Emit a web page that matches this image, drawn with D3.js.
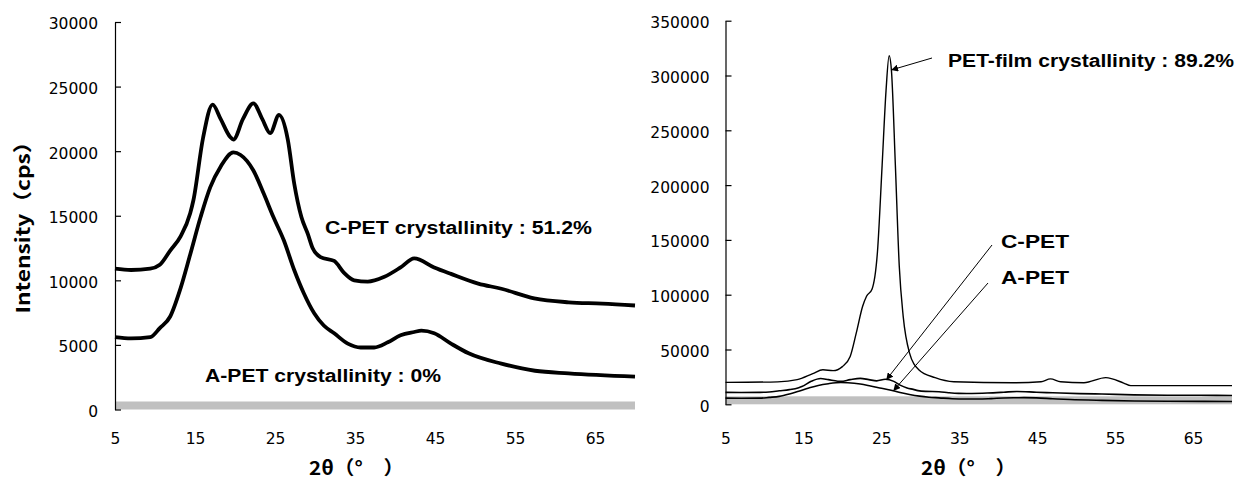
<!DOCTYPE html>
<html><head><meta charset="utf-8">
<script src="https://cdn.jsdelivr.net/npm/d3@7"></script>
<style>
html,body{margin:0;padding:0;background:#fff;}
svg{display:block;}
.tick text{font-family:"DejaVu Sans",sans-serif;font-size:15.5px;fill:#000;}
.lbl{font-family:"Liberation Sans",Arial,sans-serif;font-weight:bold;fill:#000;}
.ttl{font-family:"Noto Sans CJK JP",sans-serif;font-weight:bold;fill:#000;}
</style></head>
<body>
<script>
// ---- data (2θ in degrees, intensity in cps) ----
const xTickLabels = [5, 15, 25, 35, 45, 55, 65];
const leftYTicks = [0, 5000, 10000, 15000, 20000, 25000, 30000];
const rightYTicks = [0, 50000, 100000, 150000, 200000, 250000, 300000, 350000];

const cpetTheta = [5, 7, 9.4, 10.6, 11.9, 13.2, 14.4, 14.8, 16, 17.2, 18.2, 19.4, 19.8, 21, 22.3, 23.4, 24.4, 25.5, 26.6, 27.4, 28.3, 29.1, 29.7, 30.7, 32.4, 33.6, 34.9, 36.6, 38.6, 40.7, 42.4, 44.9, 47, 50.4, 53.3, 57.4, 61.7, 65.9, 70];
const cpetValues = [10900, 10800, 10900, 11200, 12300, 13400, 15200, 16200, 21000, 23600, 22500, 21100, 20900, 22500, 23700, 22500, 21400, 22800, 20900, 17500, 14900, 13600, 12500, 11800, 11500, 10600, 10000, 9900, 10250, 11000, 11700, 11000, 10500, 9750, 9350, 8600, 8300, 8200, 8050];

const apetTheta = [5, 7, 9.4, 10.6, 11.9, 13.2, 14.4, 15.7, 16.9, 18.2, 19.8, 20.7, 22.3, 23.6, 24.8, 26.1, 27.4, 28.6, 29.9, 31.1, 32.4, 34.1, 35.7, 37.4, 39.1, 40.7, 42.4, 43.3, 44.9, 47, 49.2, 53.3, 57.5, 61.7, 70];
const apetValues = [5600, 5500, 5600, 6300, 7200, 9400, 12000, 14900, 17200, 18800, 19900, 19700, 18500, 16700, 14900, 13100, 10800, 9000, 7450, 6500, 5900, 5100, 4800, 4800, 5200, 5750, 6000, 6100, 5900, 5100, 4350, 3550, 3000, 2800, 2550];

const filmTheta = [5, 11.7, 14.2, 16.2, 17.5, 18.8, 20, 21, 21.8, 22.6, 23.1, 23.8, 24.5, 25.1, 25.6, 26.0, 26.3, 26.8, 27.3, 27.8, 28.6, 29.8, 31.9, 34.3, 41.9, 45.5, 46.7, 48, 51, 53.8, 56.1, 57, 70];
const filmValues = [20000, 20500, 22500, 28000, 31500, 30700, 34400, 43600, 65600, 89400, 98600, 105000, 139000, 218000, 286000, 318000, 304000, 218000, 126000, 80500, 47200, 31600, 24300, 20600, 19700, 20600, 23200, 20600, 19700, 24300, 19400, 17000, 17000];

const leftLabels = ["C-PET crystallinity : 51.2%", "A-PET crystallinity : 0%"];
const rightLabels = ["PET-film crystallinity : 89.2%", "C-PET", "A-PET"];
const yTitle = "Intensity（cps）";
const xTitle = "2θ（°　）";

const W = 1237, H = 481;
const svg = d3.select("body").append("svg").attr("width", W).attr("height", H);

svg.append("defs").append("marker")
  .attr("id", "arr").attr("viewBox", "0 0 10 10").attr("refX", 10).attr("refY", 5)
  .attr("markerWidth", 7).attr("markerHeight", 7).attr("markerUnits", "userSpaceOnUse")
  .attr("orient", "auto")
  .append("path").attr("d", "M0,0 L10,5 L0,10 z").attr("fill", "#000");

function zip(xs, ys){ return xs.map((x,i)=>[x, ys[i]]); }

function panel(opt){
  const x = d3.scaleLinear().domain([5,70]).range(opt.xr);
  const y = d3.scaleLinear().domain([0, opt.ymax]).range(opt.yr);
  const g = svg.append("g");
  // gray baseline band
  g.append("rect").attr("x", x(5)).attr("y", y(0)-8).attr("width", x(70)-x(5)).attr("height", 8).attr("fill", "#c0c0c0");
  // y axis
  const ya = g.append("g").attr("transform", `translate(${x(5)},0)`)
    .call(d3.axisLeft(y).tickValues(opt.yticks).tickFormat(d3.format("d")).tickSizeInner(-6).tickSizeOuter(0).tickPadding(opt.pad));
  ya.select(".domain").attr("stroke", "#000").attr("stroke-width", 1.2);
  ya.selectAll(".tick line").attr("stroke", "#000").attr("stroke-width", 1.2);
  ya.selectAll(".tick text").attr("dy", "0.45em");
  // x axis labels
  const xa = g.append("g").attr("transform", `translate(0,433)`)
    .call(d3.axisBottom(x).tickValues(xTickLabels).tickSize(0).tickPadding(0));
  xa.select(".domain").remove();
  // lines
  const line = d3.line().x(d=>x(d[0])).y(d=>y(d[1])).curve(d3.curveMonotoneX);
  opt.series.forEach(s=>{
    g.append("path").attr("d", line(zip(s.t, s.v))).attr("fill","none")
      .attr("stroke","#000").attr("stroke-width", s.w).attr("stroke-linejoin","round");
  });
  // x title
  g.append("text").attr("class","ttl").attr("x", opt.xt).attr("y", 475)
    .attr("font-size", 19).attr("textLength", 95).attr("lengthAdjust","spacingAndGlyphs").text(xTitle);
  return {x, y, g};
}

const L = panel({xr:[115,635], yr:[409.5,22], ymax:30000, yticks:leftYTicks, pad:17, xt:309,
  series:[{t:cpetTheta, v:cpetValues, w:3.8},{t:apetTheta, v:apetValues, w:3.8}]});
const R = panel({xr:[725.5,1232], yr:[404.3,20.7], ymax:350000, yticks:rightYTicks, pad:16, xt:921,
  series:[{t:filmTheta, v:filmValues, w:1.4},{t:cpetTheta, v:cpetValues, w:1.6},{t:apetTheta, v:apetValues, w:1.6}]});

// y title
svg.append("text").attr("class","ttl").attr("transform","translate(30,222) rotate(-90)")
  .attr("text-anchor","middle").attr("font-size", 19)
  .attr("textLength", 183).attr("lengthAdjust","spacingAndGlyphs").text(yTitle);

// left annotations
svg.append("text").attr("class","lbl").attr("x", 325).attr("y", 234).attr("font-size", 17.5)
  .attr("textLength", 267).attr("lengthAdjust","spacingAndGlyphs").text(leftLabels[0]);
svg.append("text").attr("class","lbl").attr("x", 205).attr("y", 382).attr("font-size", 17.5)
  .attr("textLength", 236).attr("lengthAdjust","spacingAndGlyphs").text(leftLabels[1]);

// right annotations
svg.append("text").attr("class","lbl").attr("x", 948).attr("y", 67).attr("font-size", 17.5)
  .attr("textLength", 286).attr("lengthAdjust","spacingAndGlyphs").text(rightLabels[0]);
svg.append("text").attr("class","lbl").attr("x", 1001).attr("y", 248).attr("font-size", 17.5)
  .attr("textLength", 68).attr("lengthAdjust","spacingAndGlyphs").text(rightLabels[1]);
svg.append("text").attr("class","lbl").attr("x", 1001).attr("y", 284).attr("font-size", 17.5)
  .attr("textLength", 68).attr("lengthAdjust","spacingAndGlyphs").text(rightLabels[2]);

function arrow(x1,y1,x2,y2){
  svg.append("line").attr("x1",x1).attr("y1",y1).attr("x2",x2).attr("y2",y2)
    .attr("stroke","#000").attr("stroke-width",1).attr("marker-end","url(#arr)");
}
arrow(932, 58, R.x(26.0)+2, R.y(305000));
arrow(992, 245, R.x(25.5)+1, R.y(25000)+3);
arrow(988, 283, R.x(26.4)+1, R.y(14000)+2);
</script>
</body></html>
